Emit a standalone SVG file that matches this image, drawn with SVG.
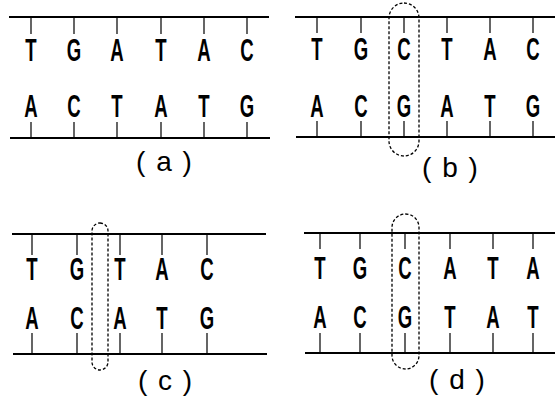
<svg xmlns="http://www.w3.org/2000/svg" width="555" height="396" viewBox="0 0 555 396">
<style>
.strand{stroke:#000;stroke-width:2;fill:none}
.tick{stroke:#000;stroke-width:1.2;fill:none}
.base{font-family:"Liberation Sans",Arial,sans-serif;font-weight:bold;font-size:32px;text-anchor:middle;fill:#000}
.lbl{font-family:"Liberation Sans",Arial,sans-serif;font-size:28px;text-anchor:middle;fill:#000;word-spacing:3px}
.hl{stroke:#000;stroke-width:1.3;fill:none;stroke-dasharray:3 2}
</style>
<rect width="555" height="396" fill="#fff"/>

<g id="panel-a">
  <g id="a-strands" class="connectors">
    <line class="strand" x1="9" y1="17" x2="269" y2="17"/>
    <line class="strand" x1="10" y1="138" x2="270" y2="138"/>
    <path class="tick" d="M31 17V34M74 17V34M117 17V34M161 17V34M204 17V34M247 17V34M31 122V138M74 122V138M117 122V138M161 122V138M204 122V138M247 122V138"/>
  </g>
  <g id="a-bases">
    <text class="base" transform="matrix(.58 0 0 1 31 61)">T</text>
    <text class="base" transform="matrix(.58 0 0 1 74 61)">G</text>
    <text class="base" transform="matrix(.58 0 0 1 117 61)">A</text>
    <text class="base" transform="matrix(.58 0 0 1 161 61)">T</text>
    <text class="base" transform="matrix(.58 0 0 1 204 61)">A</text>
    <text class="base" transform="matrix(.58 0 0 1 247 61)">C</text>
    <text class="base" transform="matrix(.58 0 0 1 31 117)">A</text>
    <text class="base" transform="matrix(.58 0 0 1 74 117)">C</text>
    <text class="base" transform="matrix(.58 0 0 1 117 117)">T</text>
    <text class="base" transform="matrix(.58 0 0 1 161 117)">A</text>
    <text class="base" transform="matrix(.58 0 0 1 204 117)">T</text>
    <text class="base" transform="matrix(.58 0 0 1 247 117)">G</text>
  </g>
  <text class="lbl" x="164" y="171">( a )</text>
</g>

<g id="panel-b">
  <g id="b-strands" class="connectors">
    <line class="strand" x1="295" y1="17" x2="555" y2="17"/>
    <line class="strand" x1="296" y1="137" x2="555" y2="137"/>
    <path class="tick" d="M317 17V33M361 17V33M404 17V33M447 17V33M490 17V33M533 17V33M317 121V137M361 121V137M404 121V137M447 121V137M490 121V137M533 121V137"/>
  </g>
  <g id="b-bases">
    <text class="base" transform="matrix(.58 0 0 1 317 60)">T</text>
    <text class="base" transform="matrix(.58 0 0 1 361 60)">G</text>
    <text class="base" transform="matrix(.58 0 0 1 404 60)">C</text>
    <text class="base" transform="matrix(.58 0 0 1 447 60)">T</text>
    <text class="base" transform="matrix(.58 0 0 1 490 60)">A</text>
    <text class="base" transform="matrix(.58 0 0 1 533 60)">C</text>
    <text class="base" transform="matrix(.58 0 0 1 317 117)">A</text>
    <text class="base" transform="matrix(.58 0 0 1 361 117)">C</text>
    <text class="base" transform="matrix(.58 0 0 1 404 117)">G</text>
    <text class="base" transform="matrix(.58 0 0 1 447 117)">A</text>
    <text class="base" transform="matrix(.58 0 0 1 490 117)">T</text>
    <text class="base" transform="matrix(.58 0 0 1 533 117)">G</text>
  </g>
  <rect id="b-highlight" class="hl" x="389" y="3" width="30" height="153" rx="15" ry="15"/>
  <text class="lbl" x="450" y="177">( b )</text>
</g>

<g id="panel-c">
  <g id="c-strands" class="connectors">
    <line class="strand" x1="12" y1="234" x2="266" y2="234"/>
    <line class="strand" x1="13" y1="354" x2="267" y2="354"/>
    <path class="tick" d="M32 234V255M77 234V255M120 234V255M162 234V255M207 234V255M32 333V354M77 333V354M120 333V354M162 333V354M207 333V354"/>
  </g>
  <g id="c-bases">
    <text class="base" transform="matrix(.58 0 0 1 32 280)">T</text>
    <text class="base" transform="matrix(.58 0 0 1 77 280)">G</text>
    <text class="base" transform="matrix(.58 0 0 1 120 280)">T</text>
    <text class="base" transform="matrix(.58 0 0 1 162 280)">A</text>
    <text class="base" transform="matrix(.58 0 0 1 207 280)">C</text>
    <text class="base" transform="matrix(.58 0 0 1 32 329)">A</text>
    <text class="base" transform="matrix(.58 0 0 1 77 329)">C</text>
    <text class="base" transform="matrix(.58 0 0 1 120 329)">A</text>
    <text class="base" transform="matrix(.58 0 0 1 162 329)">T</text>
    <text class="base" transform="matrix(.58 0 0 1 207 329)">G</text>
  </g>
  <rect id="c-highlight" class="hl" x="92" y="223" width="16" height="147" rx="8" ry="8"/>
  <text class="lbl" x="165" y="390">( c )</text>
</g>

<g id="panel-d">
  <g id="d-strands" class="connectors">
    <line class="strand" x1="304" y1="233" x2="555" y2="233"/>
    <line class="strand" x1="305" y1="353" x2="555" y2="353"/>
    <path class="tick" d="M320 233V249M360 233V249M405 233V249M450 233V249M493 233V249M533 233V249M320 333V353M360 333V353M405 333V353M450 333V353M493 333V353M533 333V353"/>
  </g>
  <g id="d-bases">
    <text class="base" transform="matrix(.58 0 0 1 320 279)">T</text>
    <text class="base" transform="matrix(.58 0 0 1 360 279)">G</text>
    <text class="base" transform="matrix(.58 0 0 1 405 279)">C</text>
    <text class="base" transform="matrix(.58 0 0 1 450 279)">A</text>
    <text class="base" transform="matrix(.58 0 0 1 493 279)">T</text>
    <text class="base" transform="matrix(.58 0 0 1 533 279)">A</text>
    <text class="base" transform="matrix(.58 0 0 1 320 328)">A</text>
    <text class="base" transform="matrix(.58 0 0 1 360 328)">C</text>
    <text class="base" transform="matrix(.58 0 0 1 405 328)">G</text>
    <text class="base" transform="matrix(.58 0 0 1 450 328)">T</text>
    <text class="base" transform="matrix(.58 0 0 1 493 328)">A</text>
    <text class="base" transform="matrix(.58 0 0 1 533 328)">T</text>
  </g>
  <rect id="d-highlight" class="hl" x="392" y="214" width="27" height="155" rx="13.5" ry="13.5"/>
  <text class="lbl" x="457" y="389">( d )</text>
</g>
</svg>
